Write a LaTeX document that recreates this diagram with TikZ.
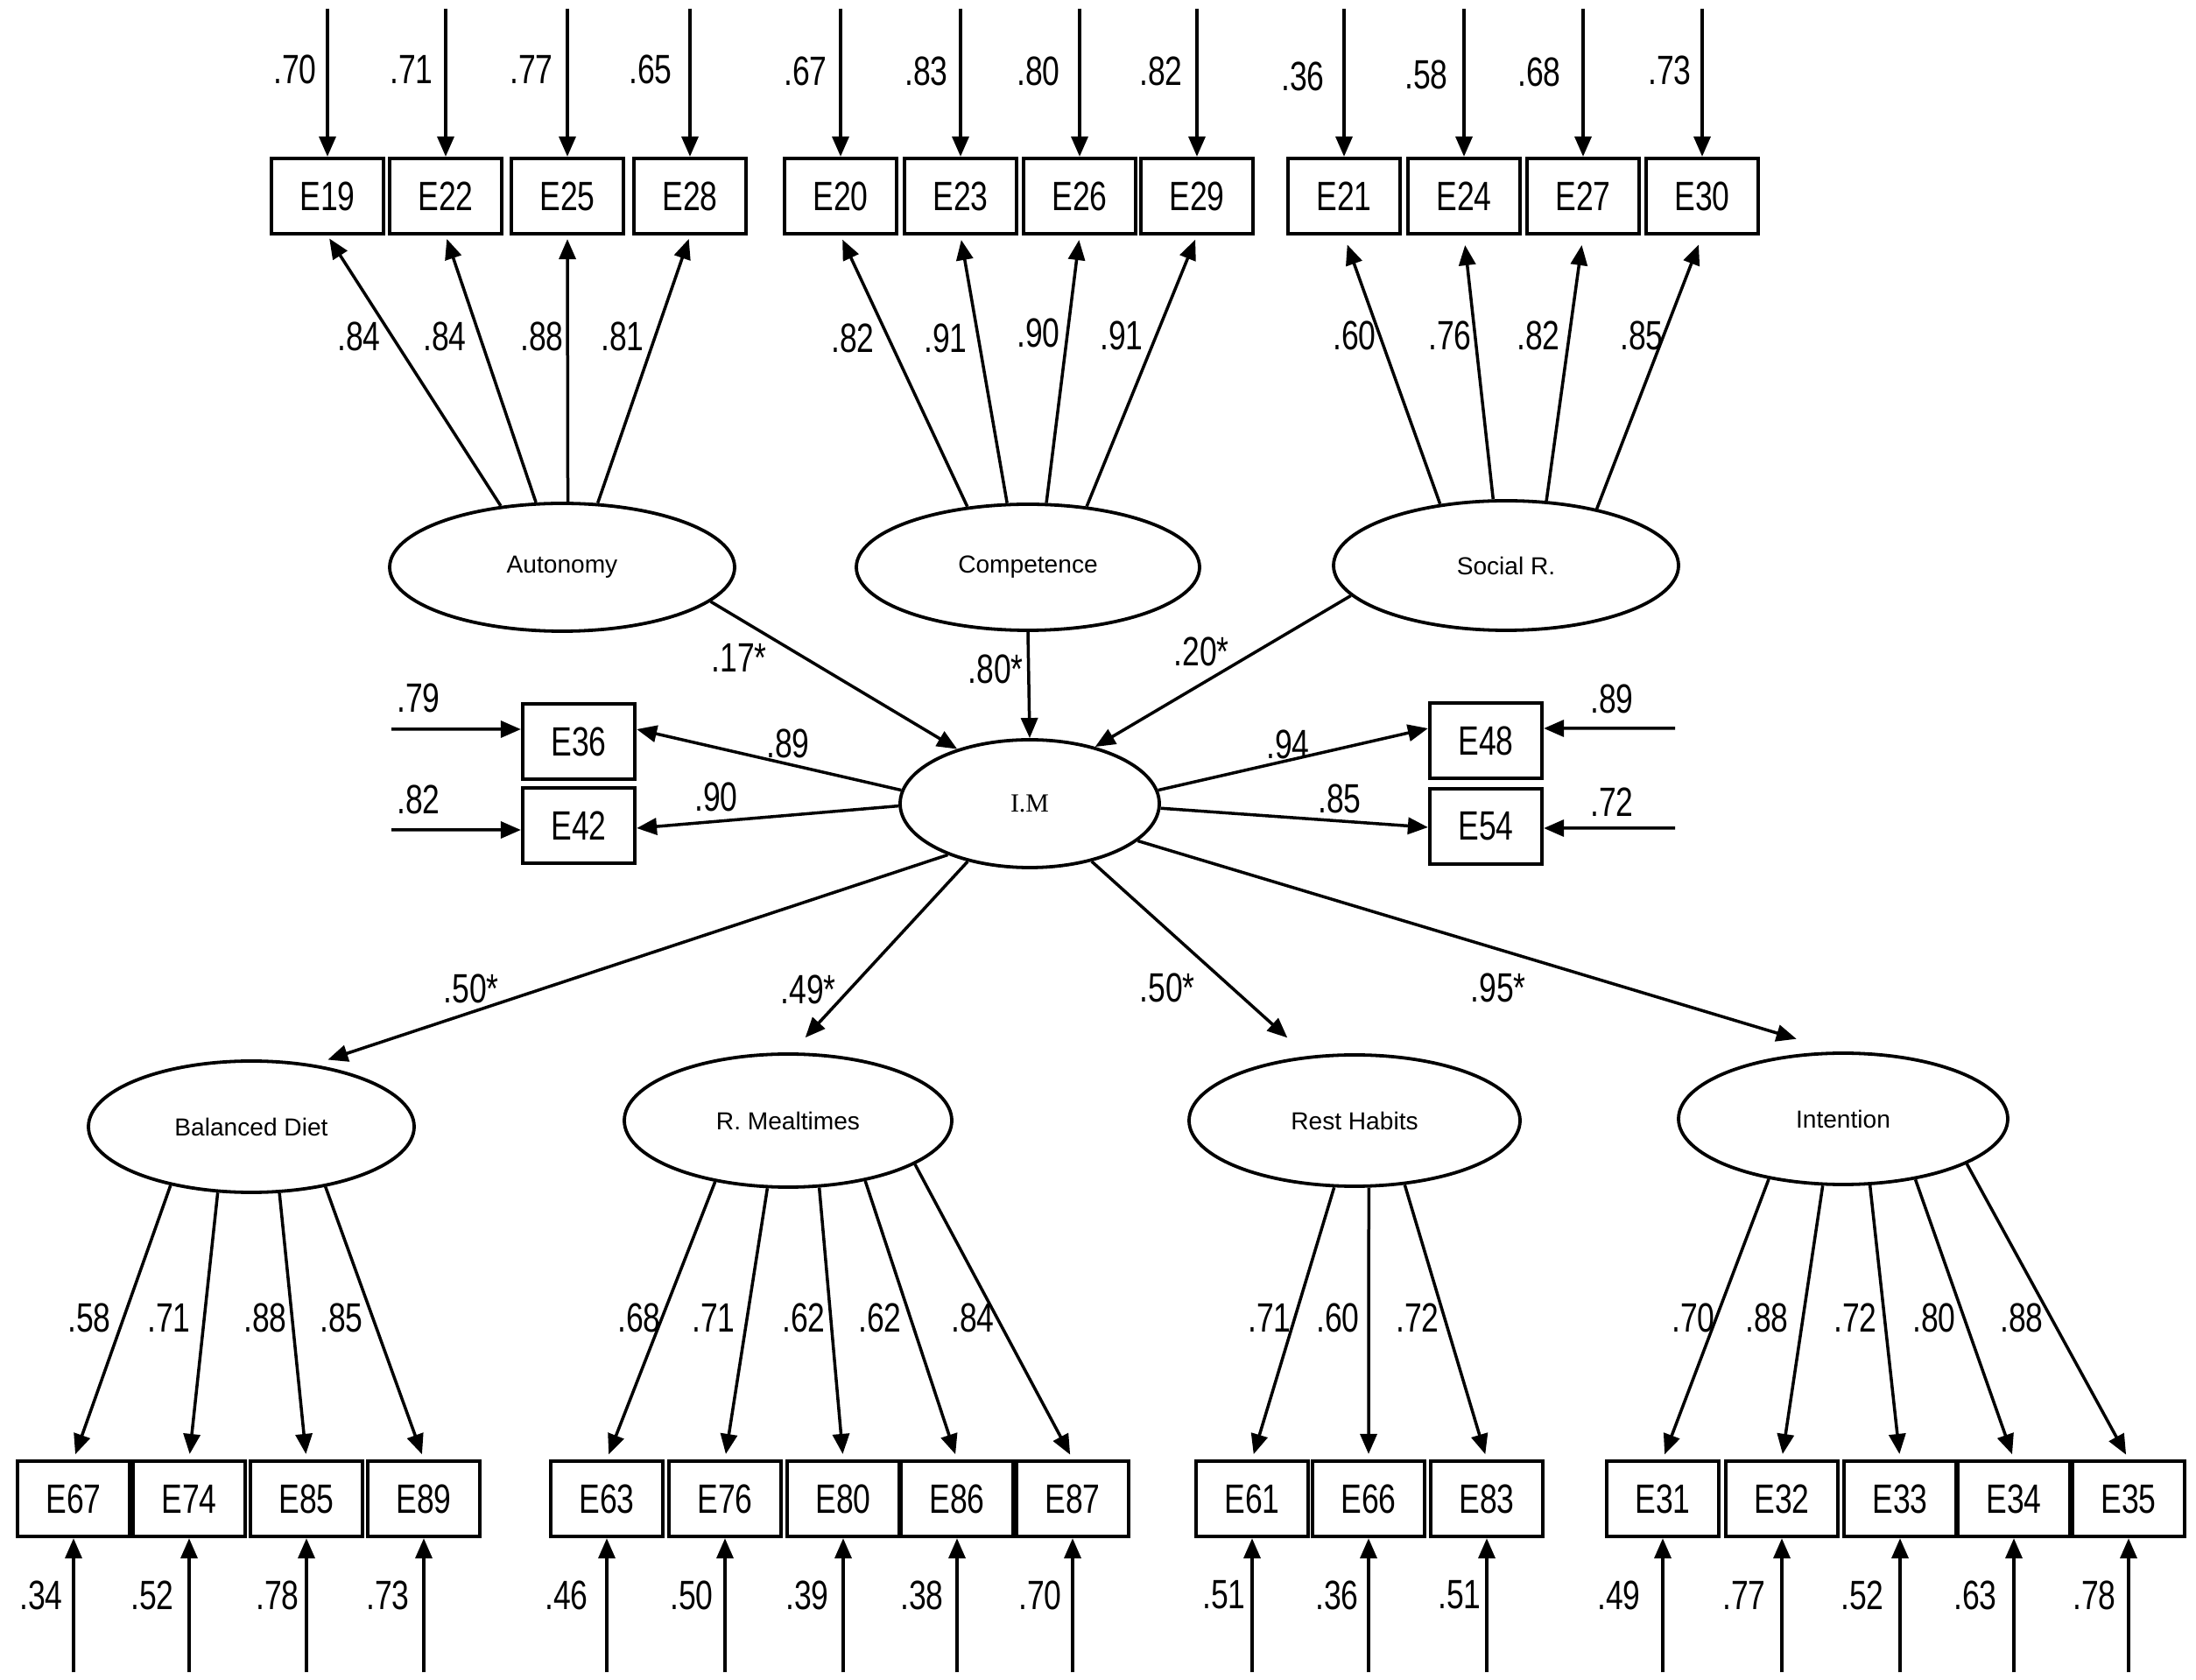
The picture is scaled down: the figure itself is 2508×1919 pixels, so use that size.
\documentclass[tikz,border=0pt]{standalone}
\usepackage{fontspec}
\setmainfont{Liberation Sans}
\newfontfamily\condfont[FakeStretch=0.76]{Liberation Sans}
\newfontfamily\imfont{Liberation Serif}
\usetikzlibrary{shapes.geometric,arrows.meta,calc}
\begin{document}
\begin{tikzpicture}[x=0.1mm,y=-0.1mm,
  obs/.style={draw, line width=0.42mm, rectangle, minimum width=12.8mm, minimum height=8.6mm, inner sep=0pt, font=\condfont\fontsize{13.3}{14}\selectfont},
  lat/.style={draw, line width=0.38mm, ellipse, inner sep=0pt, font=\fontsize{8}{9}\selectfont},
  lab/.style={inner sep=0pt, font=\condfont\fontsize{13.3}{14}\selectfont},
  arr/.style={line width=0.35mm, -{Triangle[length=2.3mm,width=1.9mm]}},
]
\useasboundingbox (0,0) rectangle (2508,1919);

% latent variables
\node[lat, minimum width=39.4mm, minimum height=14.6mm] (AU) at (642,648) {Autonomy};
\node[lat, minimum width=39.2mm, minimum height=14.4mm] (CO) at (1174,648) {Competence};
\node[lat, minimum width=39.4mm, minimum height=14.8mm] (SR) at (1720,646) {Social R.};
\node[lat, minimum width=29.6mm, minimum height=14.6mm, font=\imfont\fontsize{8.5}{9}\selectfont] (IM) at (1176,918) {I.M};
\node[lat, minimum width=37.2mm, minimum height=15mm] (BD) at (287,1287) {Balanced Diet};
\node[lat, minimum width=37.4mm, minimum height=15.2mm] (RM) at (900,1280) {R. Mealtimes};
\node[lat, minimum width=37.8mm, minimum height=15mm] (RH) at (1547,1280) {Rest Habits};
\node[lat, minimum width=37.6mm, minimum height=15mm] (IN) at (2105,1278) {Intention};

% top indicators
\foreach \n/\x in {E19/374,E22/509,E25/648,E28/788,E20/960,E23/1097,E26/1233,E29/1367,E21/1535,E24/1672,E27/1808,E30/1944}
  \node[obs] (\n) at (\x,224) {\n};
\foreach \n/\v/\lx/\ly in {E19/.70/337/79,E22/.71/470/79,E25/.77/607/79,E28/.65/743/79,E20/.67/920/81,E23/.83/1058/81,E26/.80/1186/81,E29/.82/1326/81,E21/.36/1488/87,E24/.58/1629/85,E27/.68/1758/82,E30/.73/1907/80}{
  \coordinate (t\n) at ($(\n.north)+(0,-169)$);
  \draw[arr] (t\n) -- (\n.north);
  \node[lab] at (\lx,\ly) {\v};
}

% top loadings
\foreach \a/\n in {135/E19,112/E22,85/E25,61/E28}
  \draw[arr, shorten >=0.4mm] (AU.\a) -- (\n.south);
\foreach \a/\n in {135/E20,108/E23,74/E26,46/E29}
  \draw[arr, shorten >=0.5mm] (CO.\a) -- (\n.south);
\foreach \a/\n in {137/E21,101/E24,58/E27,32/E30}
  \draw[arr, shorten >=1.1mm] (SR.\a) -- (\n.south);
\foreach \v/\x/\y in {.84/410/384,.84/508/384,.88/619/384,.81/711/384,.82/974/386,.91/1080/386,.90/1186/380,.91/1281/383,.60/1547/383,.76/1656/383,.82/1757/383,.85/1875/383}
  \node[lab] at (\x,\y) {\v};

% structural paths into I.M
\draw[arr] (AU.347) -- (IM.143);
\draw[arr] (CO.south) -- (IM.north);
\draw[arr] (SR.191) -- (IM.41);

% I.M indicators
\node[obs] (E36) at (661,847) {E36};
\node[obs] (E42) at (661,943) {E42};
\node[obs] (E48) at (1697,846) {E48};
\node[obs] (E54) at (1697,944) {E54};
\coordinate (rE36) at (447,833);
\coordinate (rE42) at (447,948);
\coordinate (rE48) at (1913,832);
\coordinate (rE54) at (1913,946);
\draw[arr] (rE36) -- ([yshift=1.4mm]E36.west);
\draw[arr] (rE42) -- ([yshift=-0.5mm]E42.west);
\draw[arr] (rE48) -- ([yshift=1.4mm]E48.east);
\draw[arr] (rE54) -- ([yshift=-0.2mm]E54.east);
\draw[arr] (IM.174) -- ([yshift=1.4mm]E36.east);
\draw[arr] (IM.181) -- ([yshift=-0.3mm]E42.east);
\draw[arr] (IM.6) -- ([yshift=1.4mm]E48.west);
\draw[arr] (IM.358) -- ([yshift=-0.1mm]E54.west);

% I.M to outcomes
\draw[arr, shorten >=1.7mm] (IM.212) -- (BD.45);
\draw[arr, shorten >=2.3mm] (IM.223) -- (RM.87);
\draw[arr, shorten >=3.1mm] (IM.317) -- (RH.126);
\draw[arr, shorten >=5mm] (IM.341) -- (IN.94);

\foreach \v/\x/\y in {.17*/844/751,.80*/1137/764,.20*/1372/744,.89/900/849,.90/818/910,.94/1471/850,.85/1530/912,.79/478/797,.82/478/913,.89/1841/798,.72/1841/916,.50*/538/1129,.49*/923/1130,.50*/1333/1128,.95*/1711/1128}
  \node[lab] at (\x,\y) {\v};

% bottom indicators
\foreach \n/\x in {E67/84,E74/216,E85/350,E89/484,E63/693,E76/828,E80/963,E86/1093,E87/1225,E61/1430,E66/1563,E83/1698,E31/1899,E32/2035,E33/2170,E34/2300,E35/2431}{
  \node[obs] (\n) at (\x,1712) {\n};
  \coordinate (b\n) at ($(\n.south)+(0,153)$);
  \draw[arr] (b\n) -- (\n.south);
}
\foreach \a/\n in {216/E67,243/E74,293/E85,321/E89}
  \draw[arr, shorten >=0.6mm] (BD.\a) -- (\n.north);
\foreach \a/\n in {220/E63,253/E76,295/E80,322/E86,341/E87}
  \draw[arr, shorten >=0.6mm] (RM.\a) -- (\n.north);
\foreach \a/\n in {253/E61,282/E66,308/E83}
  \draw[arr, shorten >=0.6mm] (RH.\a) -- (\n.north);
\foreach \a/\n in {219/E31,253/E32,292/E33,320/E34,340/E35}
  \draw[arr, shorten >=0.6mm] (IN.\a) -- (\n.north);

\foreach \v/\x in {.58/102,.71/193,.88/303,.85/390,.68/730,.71/815,.62/918,.62/1005,.84/1111,.71/1450,.60/1528,.72/1619,.70/1934,.88/2018,.72/2119,.80/2209,.88/2309}
  \node[lab] at (\x,1505) {\v};
\foreach \v/\x in {.34/47,.52/174,.78/317,.73/443,.46/647,.50/790,.39/922,.38/1053,.70/1188,.51/1398,.36/1527,.51/1667,.49/1849,.77/1992,.52/2127,.63/2256,.78/2392}
  \node[lab] at (\x,1822) {\v};
\end{tikzpicture}
\end{document}
